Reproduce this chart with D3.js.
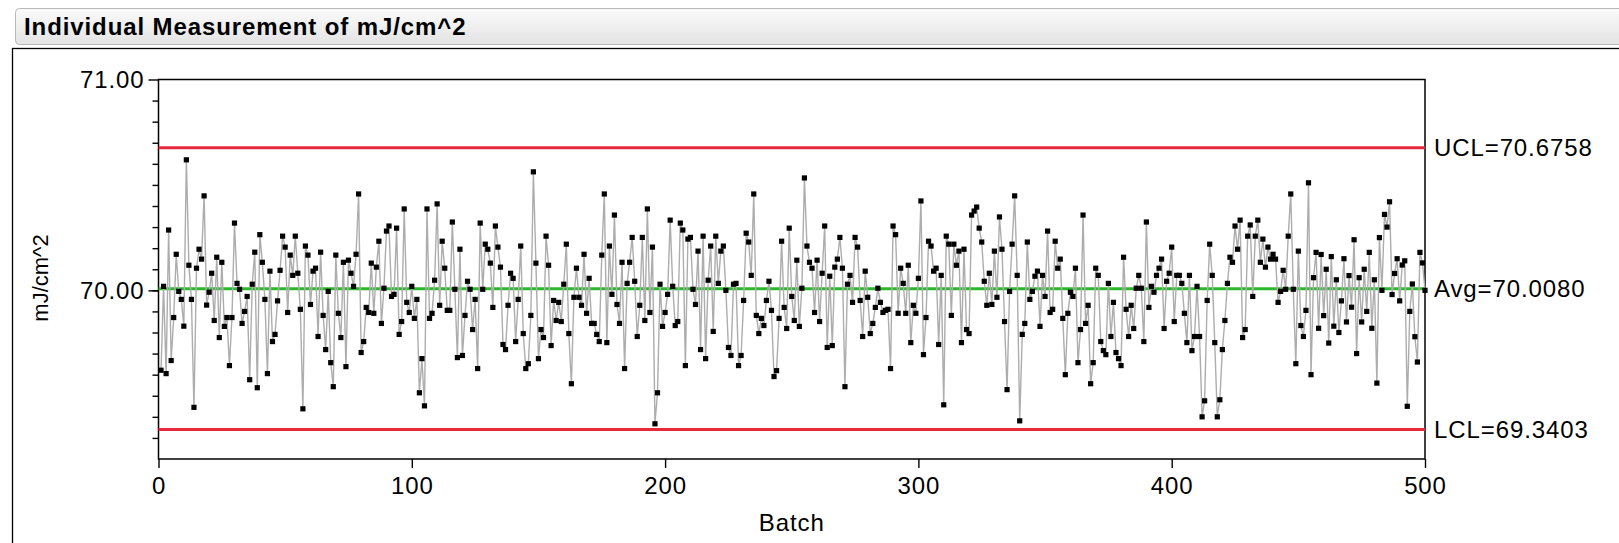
<!DOCTYPE html>
<html>
<head>
<meta charset="utf-8">
<script src="https://cdn.jsdelivr.net/npm/d3@7"></script>
<style>
  body { margin: 0; background: #fff; }
  text { font-family: "Liberation Sans", Arial, sans-serif; }
</style>
</head>
<body>
<svg id="chart"></svg>
<script>
// values, batch 1..500
const measurements = [
  69.621, 70.019, 69.605, 70.286, 69.667, 69.871, 70.171, 69.995, 69.957, 69.830,
  70.619, 70.119, 69.957, 69.445, 70.105, 70.195, 70.148, 70.448, 69.930, 69.991,
  70.081, 69.857, 70.157, 69.776, 70.133, 69.829, 69.871, 69.643, 69.871, 70.319,
  70.033, 70.005, 69.843, 69.900, 69.971, 69.576, 70.029, 70.181, 69.538, 70.264,
  70.133, 69.957, 69.605, 70.091, 69.757,
  69.791, 69.950, 70.095, 70.257, 70.205, 69.895, 70.167, 70.071, 70.257, 70.081,
  69.910, 69.438, 70.210, 70.167, 69.933, 70.091, 70.105, 69.781, 70.181, 69.881,
  69.719, 69.995, 69.657, 69.543, 70.167, 69.891, 69.776, 70.133, 69.638, 70.143,
  70.081, 70.019, 70.171, 70.457, 69.705, 69.757, 69.919, 69.895, 70.129, 69.891,
  70.110, 70.233, 69.843, 70.010, 70.281,
  70.305, 69.971, 69.981, 70.295, 69.791, 69.852, 70.386, 69.943, 69.895, 70.019,
  69.867, 69.957, 69.514, 69.676, 69.452, 70.386, 69.867, 69.891, 70.048, 70.410,
  69.929, 70.233, 70.105, 69.905, 69.905, 70.324, 70.005, 69.681, 70.195, 69.691,
  69.881, 70.043, 70.005, 69.814, 69.957, 69.629, 70.319, 70.005, 70.219, 70.195,
  70.129, 69.919, 70.305, 70.205, 70.110, 69.743,
  69.719, 69.929, 70.081, 70.057, 69.757, 69.957, 70.210, 69.795, 69.629, 69.652,
  69.881, 70.562, 70.129, 69.676, 69.814, 69.776, 70.257, 70.119, 69.738, 69.952,
  69.857, 69.943, 69.852, 70.029, 70.219, 69.795, 69.557, 69.967, 70.105, 69.967,
  69.929, 70.171, 69.891, 70.057, 69.843, 69.843, 69.791, 69.757, 70.167, 70.457,
  69.752, 70.210, 69.981, 70.357, 69.933,
  69.843, 70.133, 69.629, 70.033, 70.133, 70.251, 70.043, 69.781, 69.929, 70.251,
  69.857, 70.386, 69.895, 70.205, 69.367, 69.514, 70.029, 69.829, 69.895, 69.981,
  70.333, 70.019, 69.833, 69.852, 70.319, 70.286, 69.643, 70.243, 70.251, 70.005,
  69.933, 70.186, 69.719, 70.257, 69.676, 70.048, 70.210, 69.805, 70.257, 70.033,
  70.186, 70.210, 70.000, 69.729, 69.691, 70.029,
  70.033, 69.643, 69.691, 69.952, 70.271, 70.229, 70.071, 70.457, 69.881, 69.795,
  69.867, 69.833, 69.952, 70.043, 69.905, 69.591, 69.619, 69.867, 70.233, 69.919,
  69.819, 70.295, 69.971, 69.857, 70.143, 69.829, 70.010, 70.533, 70.210, 70.133,
  70.105, 69.895, 70.143, 69.852, 70.081, 70.305, 69.729, 70.067, 69.738, 70.110,
  70.148, 70.251, 70.105, 69.543, 70.029,
  70.071, 69.943, 70.251, 70.205, 69.952, 69.781, 70.091, 69.967, 69.795, 69.843,
  69.919, 70.010, 69.943, 69.895, 69.905, 69.910, 69.629, 70.305, 70.264, 69.891,
  70.105, 70.033, 69.891, 70.119, 69.752, 69.929, 69.891, 70.057, 70.424, 69.695,
  69.871, 70.233, 70.210, 70.091, 70.105, 69.743, 70.071, 69.457, 70.257, 70.219,
  69.881, 70.219, 70.119, 70.186, 69.752,
  70.195, 69.814, 69.795, 70.357, 70.376, 70.395, 70.295, 70.229, 70.043, 69.929,
  70.081, 69.933, 70.186, 69.967, 70.348, 70.195, 69.852, 69.529, 69.995, 70.219,
  70.448, 70.071, 69.381, 69.791, 69.843, 70.229, 69.957, 69.995, 70.067, 70.091,
  69.829, 70.071, 69.971, 70.281, 69.895, 69.910, 70.233, 70.105, 70.148, 69.867,
  69.600, 69.891, 69.991, 69.971, 70.105, 69.657,
  69.814, 70.357, 69.843, 69.929, 69.557, 69.657, 70.105, 70.071, 69.757, 69.714,
  69.695, 70.033, 69.781, 69.943, 69.705, 69.676, 69.643, 70.157, 69.910, 69.781,
  69.929, 69.819, 70.010, 70.071, 70.010, 69.757, 70.324, 69.919, 70.019, 69.991,
  70.071, 70.105, 70.148, 69.819, 70.043, 70.081, 70.205, 69.852, 70.071, 70.071,
  70.033, 69.891, 69.752, 70.071, 69.714,
  69.781, 70.019, 69.781, 69.400, 69.476, 69.952, 70.219, 70.071, 69.752, 69.400,
  69.481, 69.719, 69.857, 70.033, 70.157, 70.133, 70.305, 70.195, 70.333, 69.776,
  69.814, 70.257, 70.310, 69.971, 70.257, 70.333, 70.133, 70.243, 70.110, 70.205,
  70.148, 70.171, 70.148, 69.943, 69.995, 70.095, 70.005, 70.257, 70.457, 70.005,
  69.652, 70.186, 69.833, 69.781, 69.905,
  70.510, 69.600, 70.060, 70.180, 69.820, 70.170, 69.880, 70.100, 69.750, 70.160,
  69.830, 70.050, 69.800, 69.950, 70.150, 69.850, 70.070, 69.920, 70.240, 69.700,
  70.060, 69.850, 70.100, 69.900, 70.180, 69.820, 70.050, 69.560, 70.250, 70.000,
  70.360, 70.300, 70.420, 69.980, 70.080, 70.150, 69.950, 70.120, 70.140, 69.450,
  69.900, 70.030, 69.780, 69.660, 70.180, 70.130, 70.000
];

const limitNames = ["UCL", "Avg", "LCL"];
const limitValues = [70.6758, 70.0080, 69.3403];

const xTicks = [0, 100, 200, 300, 400, 500];
const yTicks = [70, 71];
const yMinorTicks = d3.range(69.3, 70.95, 0.1);

const title = "Individual Measurement of mJ/cm^2";
const xLabel = "Batch";
const yLabel = "mJ/cm^2";

const w = 1619;
const h = 543;
const fontSize = 24;
const spacing = 0.9;

const limitColor = {UCL: "#e8283c", Avg: "#2cb82c", LCL: "#e8283c"};

var svg = d3.select("#chart")
  .attr("width", w)
  .attr("height", h);

// header bar
var grad = svg.append("defs").append("linearGradient")
  .attr("id", "hdr")
  .attr("x1", 0).attr("y1", 0).attr("x2", 0).attr("y2", 1);
grad.append("stop").attr("offset", "0%").attr("stop-color", "#fbfbfb");
grad.append("stop").attr("offset", "100%").attr("stop-color", "#e3e3e3");

svg.append("rect")
  .attr("x", 15.5).attr("y", 8.5)
  .attr("width", 1640).attr("height", 36)
  .attr("rx", 4)
  .attr("fill", "url(#hdr)")
  .attr("stroke", "#b8b8b8");

svg.append("text")
  .attr("x", 24).attr("y", 35)
  .attr("font-size", 24)
  .attr("font-weight", "bold")
  .attr("letter-spacing", 0.9)
  .text(title);

// panel frame
svg.append("rect")
  .attr("x", 12.5).attr("y", 48.5)
  .attr("width", 1700).attr("height", 600)
  .attr("fill", "none")
  .attr("stroke", "#000")
  .attr("stroke-width", 1.3);

const xScale = d3.scaleLinear()
  .domain([0, 500])
  .range([158.5, 1425]);

const yScale = d3.scaleLinear()
  .domain([69.2, 71.0])
  .range([459, 79.5]);

// plot frame
svg.append("rect")
  .attr("x", xScale(0)).attr("y", yScale(71))
  .attr("width", xScale(500) - xScale(0))
  .attr("height", yScale(69.2) - yScale(71))
  .attr("fill", "none")
  .attr("stroke", "#000")
  .attr("stroke-width", 1.5);

function styleAxis(g) {
  g.select(".domain").remove();
  g.selectAll("line").attr("stroke-width", 1.4);
  g.selectAll("text")
    .attr("font-size", fontSize)
    .attr("fill", "#000")
    .attr("letter-spacing", spacing)
    .style("font-family", '"Liberation Sans", Arial, sans-serif');
}

svg.append("g")
  .attr("transform", `translate(${xScale(0)}, 0)`)
  .call(d3.axisLeft(yScale).tickValues(yMinorTicks).tickFormat("").tickSize(6))
  .call(styleAxis);

svg.append("g")
  .attr("transform", `translate(${xScale(0)}, 0)`)
  .call(d3.axisLeft(yScale).tickValues(yTicks).tickFormat(d3.format(".2f")).tickSize(10).tickPadding(4))
  .call(styleAxis);

svg.append("g")
  .attr("transform", `translate(0, ${yScale(69.2)})`)
  .call(d3.axisBottom(xScale).tickValues(xTicks).tickSize(9).tickPadding(9))
  .call(styleAxis);

svg.append("text")
  .attr("x", (xScale(0) + xScale(500)) / 2)
  .attr("y", 531)
  .attr("text-anchor", "middle")
  .attr("font-size", fontSize)
  .attr("letter-spacing", spacing)
  .text(xLabel);

svg.append("text")
  .attr("transform", `translate(48, 278) rotate(-90)`)
  .attr("text-anchor", "middle")
  .attr("font-size", 22)
  .text(yLabel);

// control limits
limitNames.forEach(function(name, i) {
  svg.append("line")
    .attr("x1", xScale(0)).attr("x2", xScale(500))
    .attr("y1", yScale(limitValues[i])).attr("y2", yScale(limitValues[i]))
    .attr("stroke", limitColor[name])
    .attr("stroke-width", 3);

  svg.append("text")
    .attr("x", xScale(500) + 9)
    .attr("y", yScale(limitValues[i]))
    .attr("dy", "0.36em")
    .attr("font-size", fontSize)
    .attr("letter-spacing", spacing)
    .text(`${name}=${limitValues[i].toFixed(4)}`);
});

// measurements
const line = d3.line()
  .x((d, i) => xScale(i + 1))
  .y(d => yScale(d));

svg.append("path")
  .datum(measurements)
  .attr("d", line)
  .attr("fill", "none")
  .attr("stroke", "#adadad")
  .attr("stroke-width", 1.4);

svg.append("g")
  .selectAll("rect")
  .data(measurements)
  .join("rect")
  .attr("x", (d, i) => xScale(i + 1) - 2.6)
  .attr("y", d => yScale(d) - 2.6)
  .attr("width", 5.2)
  .attr("height", 5.2)
  .attr("fill", "#000");
</script>
</body>
</html>
